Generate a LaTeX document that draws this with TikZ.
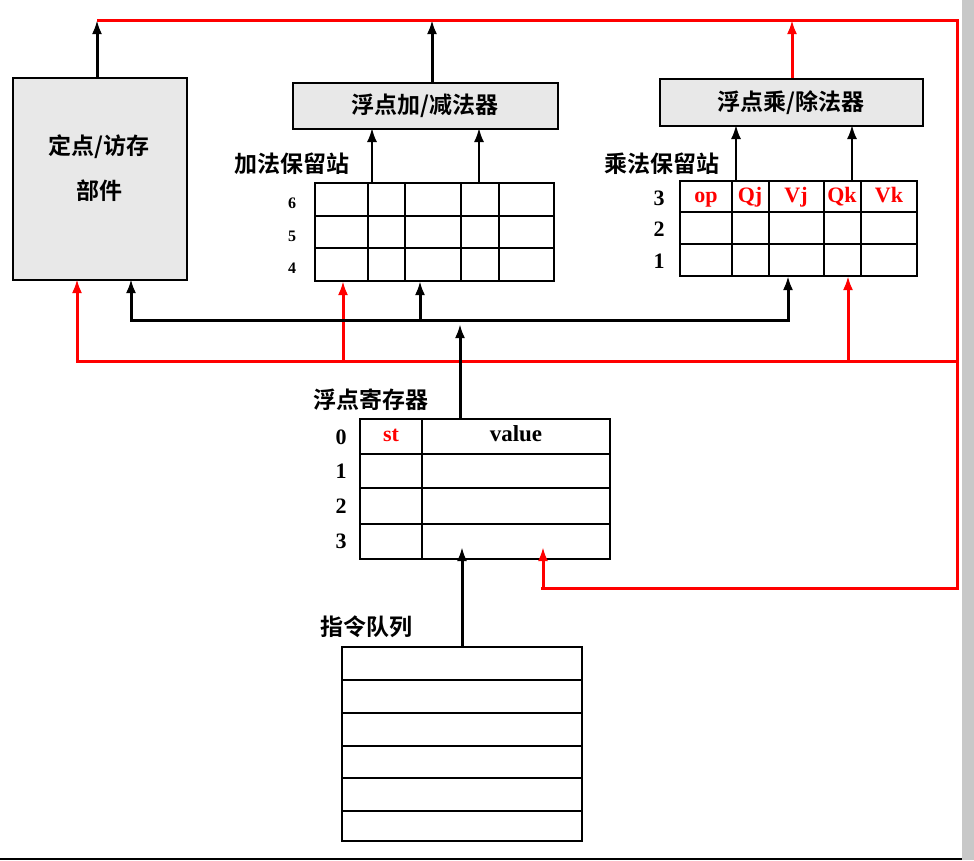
\documentclass[tikz,border=0pt]{standalone}
\usepackage{fontspec}
\setmainfont{Liberation Serif}
\newfontfamily\cjk{Noto Sans CJK SC Bold}
\usetikzlibrary{arrows.meta}
\definecolor{boxgray}{RGB}{232,232,232}
\definecolor{barg}{RGB}{200,200,200}
\tikzset{
  unitbox/.style={draw, line width=1.6pt, fill=boxgray},
  grid/.style={line width=1.6pt},
  blk/.style={line width=3pt, -{Latex[length=14pt,width=10pt]}},
  thinblk/.style={line width=2pt, -{Latex[length=14pt,width=10pt]}},
  red/.style={line width=3pt, draw=red, -{Latex[length=14pt,width=10pt]}},
  redl/.style={line width=3pt, draw=red},
  cjklab/.style={font=\cjk\fontsize{23}{23}\selectfont, inner sep=0pt},
  numl/.style={font=\bfseries\fontsize{22}{22}\selectfont, inner sep=0pt},
  smalln/.style={font=\bfseries\fontsize{16}{16}\selectfont, inner sep=0pt},
  redf/.style={font=\bfseries\fontsize{22}{22}\selectfont, text=red, inner sep=0pt, text height=14pt, text depth=5pt},
}
\begin{document}
\begin{tikzpicture}[x=1pt,y=-1pt]
\useasboundingbox (0,0) rectangle (974,860);
\fill[white] (0,0) rectangle (974,860);
\fill[barg] (962,0) rectangle (974,860);
\draw[line width=2pt] (0,859) -- (962,859);
% units
\node[unitbox, minimum width=174pt, minimum height=202pt, anchor=north west] (ls) at (12,77) {};
\node[cjklab] at (99,147) {定点/访存};
\node[cjklab] at (99,191) {部件};
\node[unitbox, minimum width=265pt, minimum height=46pt, anchor=north west, cjklab] (add) at (292,82) {浮点加/减法器};
\node[unitbox, minimum width=263pt, minimum height=47pt, anchor=north west, cjklab] (mul) at (659,78) {浮点乘/除法器};
% adder RS
\draw[grid] (315,183) rectangle (554,281);
\foreach \y in {216,248} \draw[grid] (315,\y) -- (554,\y);
\foreach \x in {368,405,461,499} \draw[grid] (\x,183) -- (\x,281);
\node[cjklab, anchor=west] (addl) at (234,164) {加法保留站};
\node[smalln] at (292,203) {6};
\node[smalln] at (292,236) {5};
\node[smalln] at (292,268) {4};
% mult RS
\draw[grid] (680,181) rectangle (917,276);
\foreach \y in {212,244} \draw[grid] (680,\y) -- (917,\y);
\foreach \x in {732,769,824,861} \draw[grid] (\x,181) -- (\x,276);
\node[cjklab, anchor=west] (mull) at (604,164) {乘法保留站};
\node[numl] at (659,198) {3};
\node[numl] at (659,229) {2};
\node[numl] at (659,261) {1};
\node[redf] at (706,198) {op};
\node[redf] at (750,198) {Qj};
\node[redf] at (796,198) {Vj};
\node[redf] at (842,198) {Qk};
\node[redf] at (889,198) {Vk};
% register file
\draw[grid] (360,419) rectangle (610,559);
\foreach \y in {454,488,524} \draw[grid] (360,\y) -- (610,\y);
\draw[grid] (422,419) -- (422,559);
\node[cjklab, anchor=west] (regl) at (313,400) {浮点寄存器};
\node[numl] at (341,437) {0};
\node[numl] at (341,471) {1};
\node[numl] at (341,506) {2};
\node[numl] at (341,541) {3};
\node[redf] at (391,437) {st};
\node[font=\bfseries\fontsize{23}{23}\selectfont, inner sep=0pt, text height=14pt, text depth=5pt] at (516,437) {value};
% instruction queue
\draw[grid] (342,647) rectangle (582,841);
\foreach \y in {680,713,746,778,811} \draw[grid] (342,\y) -- (582,\y);
\node[cjklab, anchor=west] (iql) at (320,627) {指令队列};
% top outputs
\draw[blk] (97,77) -- (97,20);
\draw[blk] (432,82) -- (432,20);
\draw[red] (792,78) -- (792,20);
% RS -> units
\draw[thinblk] (372,183) -- (372,128);
\draw[thinblk] (479,183) -- (479,128);
\draw[thinblk] (736,181) -- (736,125);
\draw[thinblk] (852,181) -- (852,125);
% red common data bus
\draw[redl] (97,20) -- (957,20) -- (957,588) -- (541,588);
\draw[red] (543,589.5) -- (543,547);
\draw[redl] (77,361) -- (957,361);
\draw[red] (77,362.5) -- (77,279);
\draw[red] (343,361) -- (343,281);
\draw[red] (848,361) -- (848,276);
% black bus
\draw[line width=3pt] (131,320) -- (788,320);
\draw[blk] (131,321.5) -- (131,279);
\draw[blk] (420,321) -- (420,281);
\draw[blk] (788,321.5) -- (788,276);
\draw[blk] (460,419) -- (460,324);
% queue -> registers
\draw[blk] (462,647) -- (462,547);
\end{tikzpicture}
\end{document}
